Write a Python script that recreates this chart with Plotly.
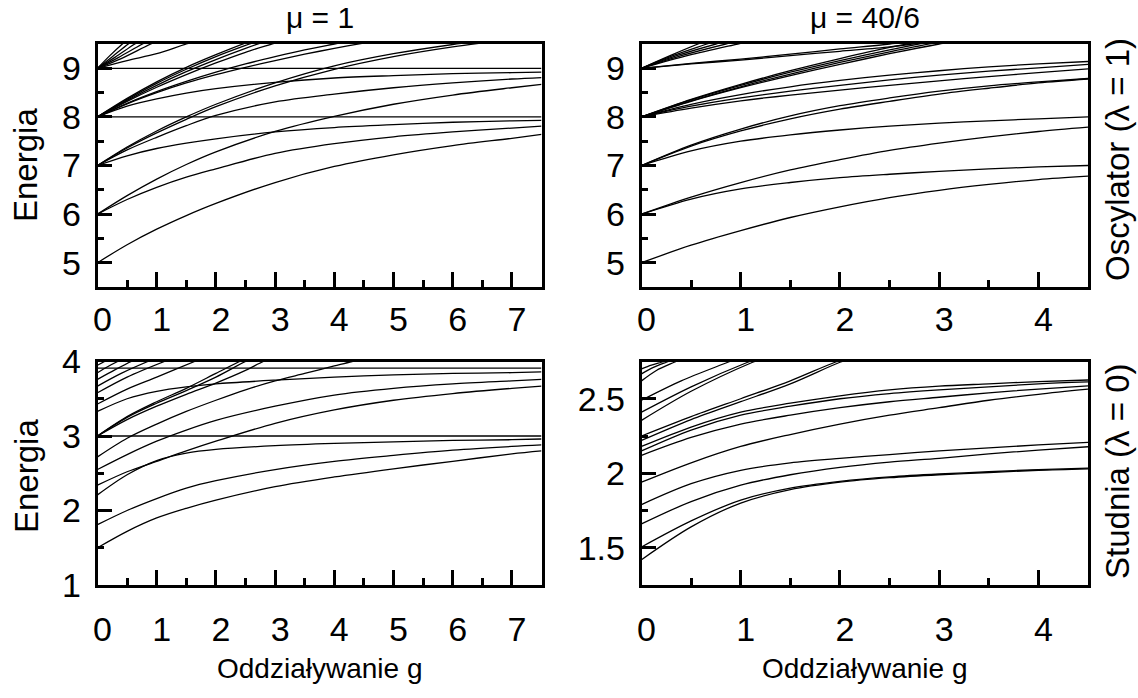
import plotly.graph_objects as go

# ===================== DATA =====================
# ---- Top-left: mu = 1, oscillator (lambda = 1); g in [0, 7.5] ----
G_TL = [0, 0.5, 1, 1.5, 2, 3, 4, 5, 6, 7, 7.5]
TL_H8 = [8, 8, 8, 8, 8, 8, 8, 8, 8, 8, 8]
TL_H9 = [9, 9, 9, 9, 9, 9, 9, 9, 9, 9, 9]
TL_L5 = [5.00, 5.37, 5.69, 5.97, 6.22, 6.65, 6.98, 7.22, 7.41, 7.56, 7.64]
TL_A6 = [6.00, 6.30, 6.55, 6.76, 6.93, 7.25, 7.45, 7.59, 7.69, 7.77, 7.81]
TL_B6 = [6.00, 6.38, 6.72, 7.02, 7.28, 7.70, 8.01, 8.26, 8.45, 8.60, 8.67]
TL_F7 = [7.00, 7.20, 7.35, 7.46, 7.55, 7.69, 7.78, 7.84, 7.89, 7.92, 7.93]
TL_C7 = [7.00, 7.32, 7.58, 7.82, 8.03, 8.31, 8.47, 8.60, 8.70, 8.78, 8.81]
TL_F8 = [8.00, 8.22, 8.37, 8.49, 8.58, 8.71, 8.80, 8.85, 8.89, 8.91, 8.92]
TL_P7A_G = [0, 0.5, 1, 1.5, 2, 3, 4, 5, 6, 6.6]
TL_P7A = [7.0, 7.38, 7.71, 8.0, 8.26, 8.70, 9.05, 9.30, 9.49, 9.58]
TL_P7B_G = [0, 0.5, 1, 1.5, 2, 3, 4, 5, 6, 7]
TL_P7B = [7.0, 7.36, 7.67, 7.95, 8.21, 8.64, 8.98, 9.24, 9.44, 9.60]
TL_S8A_G = [0, 0.5, 1, 1.5, 2, 2.5, 2.7]
TL_S8A = [8.0, 8.38, 8.72, 9.02, 9.28, 9.52, 9.60]
TL_S8B_G = [0, 0.5, 1, 1.5, 2, 2.5, 2.8]
TL_S8B = [8.0, 8.36, 8.69, 8.98, 9.24, 9.47, 9.60]
TL_S8C_G = [0, 0.5, 1, 1.5, 2, 2.5, 2.9]
TL_S8C = [8.0, 8.34, 8.65, 8.93, 9.18, 9.41, 9.58]
TL_S8D_G = [0, 0.5, 1, 1.5, 2, 2.5, 3.0, 3.2]
TL_S8D = [8.0, 8.32, 8.61, 8.87, 9.11, 9.33, 9.52, 9.60]
TL_M8A_G = [0, 0.5, 1, 1.5, 2, 2.5, 3, 3.5, 4, 4.3]
TL_M8A = [8.0, 8.28, 8.52, 8.73, 8.92, 9.09, 9.24, 9.38, 9.50, 9.57]
TL_M8B_G = [0, 0.5, 1, 1.5, 2, 2.5, 3, 3.5, 4, 4.5, 4.8]
TL_M8B = [8.0, 8.27, 8.50, 8.70, 8.87, 9.02, 9.16, 9.29, 9.41, 9.52, 9.58]
TL_N9A_G = [0, 0.2, 0.42, 0.6]
TL_N9A = [9.0, 9.25, 9.5, 9.68]
TL_N9B_G = [0, 0.25, 0.52, 0.7]
TL_N9B = [9.0, 9.24, 9.5, 9.66]
TL_N9C_G = [0, 0.3, 0.63, 0.8]
TL_N9C = [9.0, 9.23, 9.5, 9.62]
TL_N9D_G = [0, 0.35, 0.76, 1.0]
TL_N9D = [9.0, 9.22, 9.5, 9.65]
TL_N9E_G = [0, 0.4, 0.9, 1.1]
TL_N9E = [9.0, 9.20, 9.5, 9.60]
TL_N9F_G = [0, 0.5, 1.0, 1.5, 1.8]
TL_N9F = [9.0, 9.16, 9.30, 9.50, 9.60]

# ---- Top-right: mu = 40/6, oscillator; g in [0, 4.5] ----
G_TR = [0, 0.5, 1, 1.5, 2, 2.5, 3, 3.5, 4, 4.5]
TR_L5 = [5.00, 5.36, 5.66, 5.93, 6.15, 6.34, 6.49, 6.61, 6.71, 6.78]
TR_F6 = [6.00, 6.31, 6.52, 6.65, 6.75, 6.82, 6.88, 6.93, 6.97, 7.00]
TR_B6 = [6.00, 6.35, 6.65, 6.91, 7.12, 7.31, 7.46, 7.59, 7.70, 7.79]
TR_F7 = [7.00, 7.30, 7.50, 7.63, 7.73, 7.81, 7.87, 7.92, 7.96, 8.00]
TR_P7A = [7.00, 7.42, 7.75, 8.02, 8.23, 8.39, 8.53, 8.64, 8.72, 8.79]
TR_P7B = [7.00, 7.40, 7.71, 7.96, 8.16, 8.32, 8.47, 8.59, 8.70, 8.78]
TR_T8A = [8.00, 8.26, 8.46, 8.62, 8.75, 8.86, 8.95, 9.03, 9.09, 9.14]
TR_T8B = [8.00, 8.22, 8.39, 8.53, 8.65, 8.76, 8.86, 8.94, 9.01, 9.08]
TR_T8C = [8.00, 8.18, 8.33, 8.45, 8.55, 8.65, 8.74, 8.83, 8.91, 8.99]
TR_S8_G = [0, 0.5, 1, 1.5, 2, 2.5, 3]
TR_S8A = [8.0, 8.36, 8.67, 8.95, 9.20, 9.43, 9.62]
TR_S8B = [8.0, 8.35, 8.65, 8.92, 9.16, 9.38, 9.58]
TR_S8C = [8.0, 8.33, 8.62, 8.88, 9.12, 9.34, 9.54]
TR_S8D_G = [0, 0.5, 1, 1.5, 2, 2.5, 3, 3.3]
TR_S8D = [8.0, 8.32, 8.60, 8.85, 9.08, 9.30, 9.50, 9.60]
TR_N9P_G = [0, 0.5, 1, 1.5, 2, 2.5, 2.8]
TR_N9P1 = [9.0, 9.10, 9.19, 9.29, 9.40, 9.50, 9.58]
TR_N9P2 = [9.0, 9.09, 9.17, 9.26, 9.35, 9.44, 9.52]
TR_N9A_G = [0, 0.3, 0.57, 0.7]
TR_N9A = [9.0, 9.27, 9.5, 9.60]
TR_N9B_G = [0, 0.33, 0.66, 0.8]
TR_N9B = [9.0, 9.27, 9.5, 9.60]
TR_N9C_G = [0, 0.37, 0.75, 0.9]
TR_N9C = [9.0, 9.27, 9.5, 9.58]
TR_N9D_G = [0, 0.42, 0.85, 1.0]
TR_N9D = [9.0, 9.27, 9.5, 9.57]
TR_N9E_G = [0, 0.48, 0.97, 1.1]
TR_N9E = [9.0, 9.27, 9.5, 9.56]

# ---- Bottom-left: mu = 1, well (lambda = 0); g in [0, 7.5] ----
G_BL = [0, 0.5, 1, 1.5, 2, 3, 4, 5, 6, 7, 7.5]
BL_H3 = [3.0, 3.0, 3.0, 3.0, 3.0, 3.0, 3.0, 3.0, 3.0, 3.0, 3.0]
BL_H39 = [3.91, 3.91, 3.91, 3.91, 3.91, 3.91, 3.91, 3.91, 3.91, 3.91, 3.91]
BL_L1 = [1.50, 1.72, 1.90, 2.03, 2.14, 2.32, 2.45, 2.56, 2.66, 2.76, 2.80]
BL_L2 = [1.81, 2.00, 2.16, 2.30, 2.40, 2.55, 2.66, 2.74, 2.81, 2.86, 2.88]
BL_F3 = [2.21, 2.48, 2.67, 2.77, 2.82, 2.87, 2.90, 2.92, 2.94, 2.95, 2.96]
BL_X3 = [2.34, 2.52, 2.66, 2.80, 2.93, 3.17, 3.35, 3.48, 3.57, 3.64, 3.67]
BL_X2 = [2.55, 2.75, 2.93, 3.08, 3.21, 3.40, 3.55, 3.64, 3.70, 3.74, 3.76]
BL_F4 = [3.33, 3.50, 3.60, 3.66, 3.70, 3.75, 3.79, 3.82, 3.84, 3.85, 3.86]
BL_X1_G = [0, 0.5, 1, 1.5, 2, 2.5, 3, 3.5, 4, 4.3, 4.6]
BL_X1 = [2.72, 2.97, 3.16, 3.33, 3.48, 3.62, 3.74, 3.84, 3.94, 4.00, 4.05]
BL_B3A_G = [0, 0.5, 1, 1.5, 2, 2.4, 2.6]
BL_B3A = [3.0, 3.26, 3.46, 3.64, 3.84, 4.0, 4.07]
BL_B3B_G = [0, 0.5, 1, 1.5, 2, 2.5, 2.7]
BL_B3B = [3.0, 3.25, 3.44, 3.61, 3.79, 4.0, 4.07]
BL_B3C_G = [0, 0.5, 1, 1.5, 2, 2.5, 2.8, 3.0]
BL_B3C = [3.0, 3.22, 3.40, 3.56, 3.71, 3.88, 4.0, 4.06]
BL_S1_G = [0, 0.5, 1, 1.64, 1.9]
BL_S1 = [3.43, 3.63, 3.79, 4.0, 4.08]
BL_S2_G = [0, 0.5, 1.13, 1.4]
BL_S2 = [3.58, 3.79, 4.0, 4.08]
BL_S3_G = [0, 0.4, 0.85, 1.1]
BL_S3 = [3.67, 3.84, 4.0, 4.08]
BL_S4_G = [0, 0.3, 0.57, 0.8]
BL_S4 = [3.76, 3.89, 4.0, 4.08]
BL_S5_G = [0, 0.17, 0.34, 0.5]
BL_S5 = [3.85, 3.93, 4.0, 4.06]
BL_S6_G = [0, 0.12, 0.25]
BL_S6 = [3.95, 4.0, 4.05]

# ---- Bottom-right: mu = 40/6, well; g in [0, 4.5] ----
G_BR = [0, 0.5, 1, 1.5, 2, 2.5, 3, 3.5, 4, 4.5]
BR_A = [1.42, 1.64, 1.80, 1.89, 1.94, 1.97, 1.99, 2.005, 2.02, 2.03]
BR_B = [1.505, 1.68, 1.82, 1.90, 1.945, 1.975, 1.995, 2.01, 2.025, 2.035]
BR_C = [1.66, 1.81, 1.92, 1.99, 2.04, 2.075, 2.10, 2.13, 2.155, 2.178]
BR_D = [1.79, 1.93, 2.02, 2.07, 2.10, 2.125, 2.15, 2.17, 2.19, 2.207]
BR_G = [1.94, 2.07, 2.18, 2.26, 2.33, 2.39, 2.44, 2.49, 2.53, 2.564]
BR_E3 = [2.12, 2.24, 2.33, 2.39, 2.44, 2.48, 2.51, 2.54, 2.565, 2.586]
BR_E2 = [2.15, 2.29, 2.39, 2.45, 2.50, 2.535, 2.56, 2.58, 2.60, 2.613]
BR_E1 = [2.18, 2.31, 2.41, 2.47, 2.52, 2.56, 2.585, 2.60, 2.615, 2.626]
BR_T7_G = [0, 0.5, 1, 1.5, 1.95, 2.2]
BR_T7 = [2.25, 2.38, 2.50, 2.62, 2.745, 2.80]
BR_T8_G = [0, 0.5, 1, 1.5, 2.0, 2.2]
BR_T8 = [2.22, 2.36, 2.48, 2.60, 2.745, 2.79]
BR_T5_G = [0, 0.5, 1.07, 1.3]
BR_T5 = [2.41, 2.58, 2.745, 2.80]
BR_T6_G = [0, 0.5, 1.12, 1.3]
BR_T6 = [2.355, 2.55, 2.745, 2.79]
BR_T4_G = [0, 0.4, 0.87, 1.0]
BR_T4 = [2.49, 2.62, 2.745, 2.78]
BR_T3_G = [0, 0.15, 0.33, 0.45]
BR_T3 = [2.62, 2.69, 2.745, 2.78]
BR_T2_G = [0, 0.12, 0.25, 0.35]
BR_T2 = [2.667, 2.71, 2.745, 2.77]
BR_T1_G = [0, 0.1, 0.2, 0.3]
BR_T1 = [2.70, 2.725, 2.745, 2.765]

# ===================== FIGURE =====================
PANELS = {
    "TL": ("x", "y", [
        (G_TL, TL_H8), (G_TL, TL_H9), (G_TL, TL_L5), (G_TL, TL_A6), (G_TL, TL_B6),
        (G_TL, TL_F7), (G_TL, TL_C7), (G_TL, TL_F8),
        (TL_P7A_G, TL_P7A), (TL_P7B_G, TL_P7B),
        (TL_S8A_G, TL_S8A), (TL_S8B_G, TL_S8B), (TL_S8C_G, TL_S8C), (TL_S8D_G, TL_S8D),
        (TL_M8A_G, TL_M8A), (TL_M8B_G, TL_M8B),
        (TL_N9A_G, TL_N9A), (TL_N9B_G, TL_N9B), (TL_N9C_G, TL_N9C),
        (TL_N9D_G, TL_N9D), (TL_N9E_G, TL_N9E), (TL_N9F_G, TL_N9F)]),
    "TR": ("x2", "y2", [
        (G_TR, TR_L5), (G_TR, TR_F6), (G_TR, TR_B6), (G_TR, TR_F7),
        (G_TR, TR_P7A), (G_TR, TR_P7B), (G_TR, TR_T8A), (G_TR, TR_T8B), (G_TR, TR_T8C),
        (TR_S8_G, TR_S8A), (TR_S8_G, TR_S8B), (TR_S8_G, TR_S8C), (TR_S8D_G, TR_S8D),
        (TR_N9P_G, TR_N9P1), (TR_N9P_G, TR_N9P2),
        (TR_N9A_G, TR_N9A), (TR_N9B_G, TR_N9B), (TR_N9C_G, TR_N9C),
        (TR_N9D_G, TR_N9D), (TR_N9E_G, TR_N9E)]),
    "BL": ("x3", "y3", [
        (G_BL, BL_H3), (G_BL, BL_H39), (G_BL, BL_L1), (G_BL, BL_L2), (G_BL, BL_F3),
        (G_BL, BL_X3), (G_BL, BL_X2), (G_BL, BL_F4), (BL_X1_G, BL_X1),
        (BL_B3A_G, BL_B3A), (BL_B3B_G, BL_B3B), (BL_B3C_G, BL_B3C),
        (BL_S1_G, BL_S1), (BL_S2_G, BL_S2), (BL_S3_G, BL_S3),
        (BL_S4_G, BL_S4), (BL_S5_G, BL_S5), (BL_S6_G, BL_S6)]),
    "BR": ("x4", "y4", [
        (G_BR, BR_A), (G_BR, BR_B), (G_BR, BR_C), (G_BR, BR_D), (G_BR, BR_G),
        (G_BR, BR_E3), (G_BR, BR_E2), (G_BR, BR_E1),
        (BR_T7_G, BR_T7), (BR_T8_G, BR_T8), (BR_T5_G, BR_T5), (BR_T6_G, BR_T6),
        (BR_T4_G, BR_T4), (BR_T3_G, BR_T3), (BR_T2_G, BR_T2), (BR_T1_G, BR_T1)]),
}

fig = go.Figure()
for key, (xa, ya, curves) in PANELS.items():
    for gx, ey in curves:
        fig.add_trace(go.Scatter(
            x=gx, y=ey, mode="lines", xaxis=xa, yaxis=ya, showlegend=False,
            hoverinfo="skip",
            line=dict(color="black", width=1.3, shape="spline", smoothing=0.9)))

W, H = 1138, 698
FAM = "Liberation Sans, Arial, Helvetica, sans-serif"
TICKFONT = dict(family=FAM, size=34, color="black")


def px_x(a, b):
    return [a / W, b / W]


def px_y(top, bottom):
    return [1 - bottom / H, 1 - top / H]


def axis(domain, rng, anchor, dtick, minor_dtick, standoff, shift=0):
    d = dict(domain=domain, range=rng, anchor=anchor, showline=True, mirror=True,
             linecolor="black", linewidth=2.5, ticks="inside", ticklen=15,
             tickwidth=2.5, tickcolor="black", tick0=0, dtick=dtick,
             minor=dict(ticks="inside", ticklen=7, tickwidth=2.5, tickcolor="black",
                        tick0=0, dtick=minor_dtick, showgrid=False),
             showgrid=False, zeroline=False, tickfont=TICKFONT, fixedrange=True,
             automargin=False, ticklabelstandoff=standoff)
    if shift:
        d["ticklabelshift"] = shift
    return d


XL = px_x(97.5, 541.5)
XR = px_x(641.5, 1088)
YT = px_y(44, 287)
YB = px_y(361.5, 585)

fig.update_layout(
    width=W, height=H, autosize=False,
    margin=dict(l=0, r=0, t=0, b=0, pad=0, autoexpand=False),
    paper_bgcolor="white", plot_bgcolor="white",
    xaxis=axis(XL, [0, 7.5], "y", 1, 0.5, 0, 5),
    yaxis=axis(YT, [4.5, 9.5], "x", 1, 0.5, 7),
    xaxis2=axis(XR, [0, 4.5], "y2", 1, 0.5, 0, 5),
    yaxis2=axis(YT, [4.5, 9.5], "x2", 1, 0.5, 7),
    xaxis3=axis(XL, [0, 7.5], "y3", 1, 0.5, 12, 5),
    yaxis3=axis(YB, [1, 4], "x3", 1, 0.5, 7),
    xaxis4=axis(XR, [0, 4.5], "y4", 1, 0.5, 12, 5),
    yaxis4=axis(YB, [1.25, 2.75], "x4", 0.5, 0.25, 7),
)

ann = []


def add_text(text, xp, yp, size, angle=0):
    ann.append(dict(text=text, x=xp / W, y=1 - yp / H, xref="paper", yref="paper",
                    showarrow=False, xanchor="center", yanchor="middle",
                    textangle=angle, font=dict(family=FAM, size=size, color="black")))


add_text("μ = 1", 319.5, 18, 30)
add_text("μ = 40/6", 864.8, 18, 30)
add_text("Energia", 26, 165, 33, -90)
add_text("Energia", 26, 476, 33, -90)
add_text("Oddziaływanie g", 319.5, 668, 28)
add_text("Oddziaływanie g", 864.8, 668, 28)
add_text("Oscylator (λ = 1)", 1117, 160, 33, -90)
add_text("Studnia (λ = 0)", 1117, 471, 33, -90)
fig.update_layout(annotations=ann)

fig.write_html("out.html", config={"responsive": False})
